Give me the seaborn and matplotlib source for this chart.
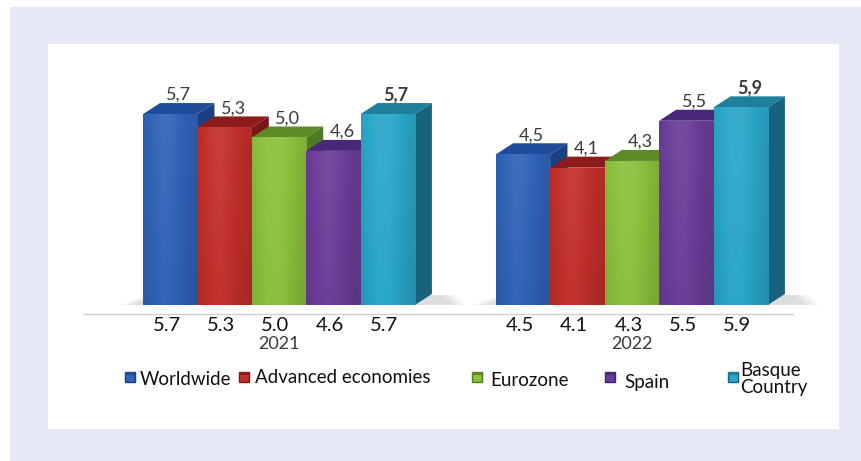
import numpy as np
import pandas as pd
import matplotlib
matplotlib.use("Agg")
import matplotlib.pyplot as plt
import seaborn as sns
from matplotlib.patches import Polygon, Rectangle
from matplotlib.colors import to_rgb

# ---------------- data ----------------
years = ["2021", "2022"]
series = ["Worldwide", "Advanced economies", "Eurozone", "Spain", "Basque\nCountry"]
values_2021 = [5.7, 5.3, 5.0, 4.6, 5.7]
values_2022 = [4.5, 4.1, 4.3, 5.5, 5.9]

front_colors = ["#2f62b6", "#c12f2a", "#8cbf3c", "#6a3d98", "#2aa6c9"]
top_colors = ["#1f4c9b", "#8c1b19", "#5e8b28", "#4a2879", "#1e7f9c"]
side_colors = ["#1c3f82", "#7a1716", "#4f7a22", "#3f2268", "#17627c"]

df = pd.DataFrame({
    "year": np.repeat(years, len(series)),
    "series": series * len(years),
    "value": values_2021 + values_2022,
})

FONT = ["Lato", "DejaVu Sans"]

# ---------------- figure ----------------
W, H = 862, 461
fig = plt.figure(figsize=(W / 100, H / 100), dpi=100)
fig.patch.set_facecolor("white")

fig.add_artist(Rectangle((10 / W, 0), (W - 10) / W, (H - 7) / H, transform=fig.transFigure,
                         facecolor="#e6e9f5", edgecolor="none", zorder=-10))
fig.add_artist(Rectangle((48 / W, (H - 429) / H), (839 - 48) / W, (429 - 44) / H,
                         transform=fig.transFigure, facecolor="white", edgecolor="none", zorder=-9))

def fx(px):
    return px / W

def fy(py):
    return (H - py) / H

ax_left, ax_right, ax_top, ax_bot = 83, 793, 60, 318
ax = fig.add_axes([fx(ax_left), fy(ax_bot), fx(ax_right) - fx(ax_left), fy(ax_top) - fy(ax_bot)])
ax.set_facecolor("none")

sns.barplot(data=df, x="year", y="value", hue="series", hue_order=series,
            palette=front_colors, width=0.77, ax=ax, legend=False,
            saturation=1, errorbar=None, zorder=3)

px_per_x = 353.0
px_per_y = 33.5
x_center0 = 279.0
x_lo = (ax_left - x_center0) / px_per_x
x_hi = (ax_right - x_center0) / px_per_x
base_px = 305.0
y_lo = -(ax_bot - base_px) / px_per_y
y_hi = (base_px - ax_top) / px_per_y
ax.set_xlim(x_lo, x_hi)
ax.set_ylim(y_lo, y_hi)

for s in ax.spines.values():
    s.set_visible(False)
ax.set_xticks([])
ax.set_yticks([])
ax.set_xlabel("")
ax.set_ylabel("")

ax.plot([x_lo, x_hi], [-(314 - base_px) / px_per_y] * 2, color="#d0d0d0", lw=1.0,
        clip_on=False, zorder=1)

dx = 17 / px_per_x
dy = 11 / px_per_y

patches = list(ax.patches)
n_s = len(series)
n_y = len(years)
all_vals = [values_2021, values_2022]

for j in range(n_y):
    group = [(i, patches[i * n_y + j]) for i in range(n_s)]
    gx0 = group[0][1].get_x()
    gx1 = group[-1][1].get_x() + group[-1][1].get_width()
    for k in range(4):
        grow = 0.012 * k
        shp = Polygon([(gx0 - 0.03 - grow, 0), (gx1 + dx + 0.06 + grow, 0),
                       (gx1 + dx * 1.6 + grow, dy * 0.9), (gx0 + dx - grow, dy * 0.9)],
                      closed=True, facecolor="#555555", alpha=0.05, edgecolor="none", zorder=1.5,
                      clip_on=False)
        ax.add_patch(shp)
    for i, p in group:
        x0 = p.get_x()
        w = p.get_width()
        h = p.get_height()
        x1 = x0 + w
        zb = 4 + 3 * i
        p.set_zorder(zb + 2)
        p.set_edgecolor("none")
        p.set_clip_on(False)
        base = to_rgb(front_colors[i])
        t = np.linspace(0, 1, 64)
        f = 0.9 + 0.18 * np.exp(-((t - 0.4) / 0.4) ** 2)
        vert = np.linspace(1.0, 0.94, 32)[:, None]
        img = np.zeros((32, 64, 3))
        for c in range(3):
            fr = f[None, :] * vert
            col = np.where(fr >= 1, base[c] + (1 - base[c]) * (fr - 1), base[c] * fr)
            img[:, :, c] = np.clip(col, 0, 1)
        im = ax.imshow(img, extent=(x0, x1, 0, h), aspect="auto", zorder=zb + 2.1,
                       origin="upper", interpolation="bilinear")
        im.set_clip_path(p)
        side = Polygon([(x1, 0), (x1 + dx, dy), (x1 + dx, h + dy), (x1, h)], closed=True,
                       facecolor=side_colors[i], edgecolor="none", zorder=zb, clip_on=False)
        ax.add_patch(side)
        top = Polygon([(x0, h), (x0 + dx, h + dy), (x1 + dx, h + dy), (x1, h)], closed=True,
                      facecolor=top_colors[i], edgecolor="none", zorder=zb + 1, clip_on=False)
        ax.add_patch(top)
        v = all_vals[j][i]
        bold = (i == n_s - 1)
        ax.text(x0 + w / 2 + dx / 2, h + dy + 0.0, f"{v:.1f}".replace(".", ","),
                ha="center", va="bottom", fontsize=13, color="#3a3a3a", family=FONT,
                fontweight="bold" if bold else "normal", zorder=30, clip_on=False)
        ax.text(x0 + w / 2 - 0.01, -(325 - base_px) / px_per_y, f"{v:.1f}",
                ha="center", va="center", fontsize=14.5, color="#111111", zorder=30,
                family=FONT, clip_on=False)
    ax.text(j, -(344 - base_px) / px_per_y, years[j], ha="center", va="center",
            fontsize=13, color="#3a3a3a", family=FONT, clip_on=False)

ax.set_xlim(x_lo, x_hi)
ax.set_ylim(y_lo, y_hi)

# legend (manual layout)
marker_x = [130, 244, 477, 610, 733]
text_x = [140, 255, 490, 624, 740]
text_y = [379, 377, 380, 382, 379]
for i, name in enumerate(series):
    sz = 10
    fig.add_artist(Rectangle((fx(marker_x[i] - sz / 2), fy(377 + sz / 2)), sz / W, sz / H,
                             transform=fig.transFigure, facecolor=front_colors[i],
                             edgecolor=side_colors[i], lw=1.0))
    fig.add_artist(Rectangle((fx(marker_x[i] - sz / 2), fy(377 - sz / 2 + 3)), sz / W, 3 / H,
                             transform=fig.transFigure, facecolor=top_colors[i],
                             edgecolor="none"))
    fig.text(fx(text_x[i]), fy(text_y[i]), name, ha="left", va="center", fontsize=13.5,
             color="#111111", linespacing=1.0, family=FONT)

fig.savefig("out.png", dpi=100)
